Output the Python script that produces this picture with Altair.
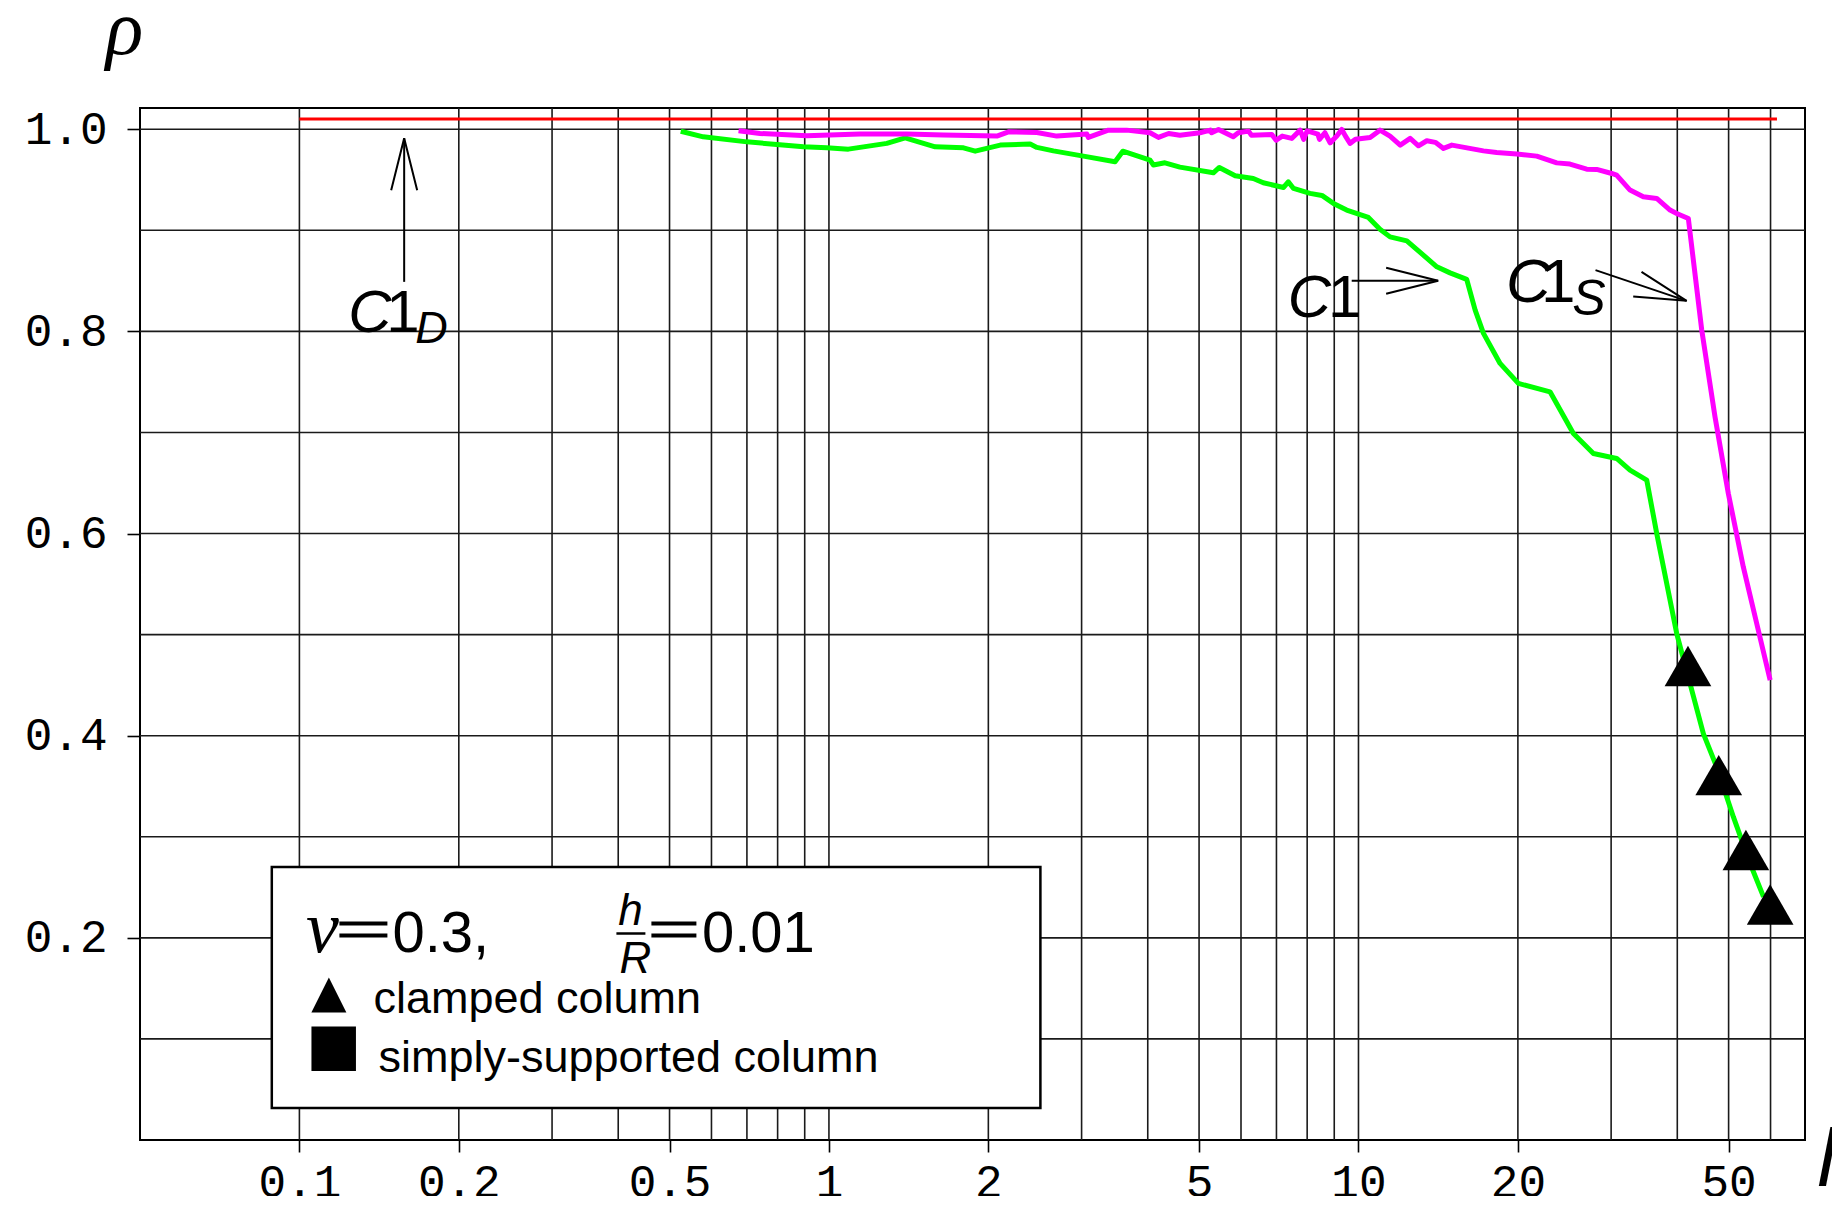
import altair as alt
import pandas as pd

# ---------------- data ----------------
# C1 (green)
c1_x = [0.525, 0.579, 0.70, 0.797, 0.895, 0.991, 1.088, 1.286, 1.393, 1.587, 1.795, 1.889,
        2.106, 2.399, 2.47, 2.654, 3.024, 3.47, 3.589, 4.04, 4.10, 4.31, 4.60, 5.32, 5.46,
        5.85, 6.33, 6.61, 7.22, 7.37, 7.54, 8.10, 8.53, 8.97, 9.50, 10.44, 10.98, 11.47,
        12.34, 14.06, 14.89, 16.01, 16.61, 17.22, 18.51, 20.04, 23.0, 25.46, 27.77, 30.73,
        32.57, 35.03, 36.58, 39.9, 42.28, 44.8, 47.48, 51.05, 54.9, 58.2]
c1_y = [0.998, 0.9925, 0.9875, 0.985, 0.9826, 0.9816, 0.9803, 0.986, 0.9915, 0.9826, 0.9816, 0.9783,
        0.9843, 0.9853, 0.982, 0.9786, 0.9734, 0.9678, 0.9783, 0.9694, 0.9646, 0.9668, 0.9625, 0.9569, 0.9622,
        0.954, 0.9513, 0.947, 0.9424, 0.948, 0.9414, 0.9365, 0.9345, 0.9266, 0.92, 0.9127, 0.9011, 0.8935,
        0.8896, 0.8639, 0.8579, 0.8514, 0.821, 0.798, 0.7683, 0.7485, 0.7402, 0.699, 0.6792, 0.6743,
        0.6627, 0.6528, 0.600, 0.501, 0.4516, 0.4021, 0.369, 0.3196, 0.2735, 0.2405]

# C1_S (magenta)
c1s_x = [0.675, 0.741, 0.908, 1.145, 1.403, 1.645, 2.075, 2.183, 2.47, 2.693, 3.069, 3.09, 3.37,
         3.65, 4.04, 4.19, 4.38, 4.60, 5.02, 5.25, 5.28, 5.44, 5.80, 5.93, 6.20, 6.28, 6.86, 6.99,
         7.18, 7.48, 7.76, 7.88, 8.0, 8.38, 8.44, 8.64, 8.84, 9.1, 9.30, 9.45, 9.64, 9.87, 10.52,
         10.98, 11.47, 11.99, 12.52, 12.98, 13.46, 13.97, 14.47, 15.01, 17.22, 18.24, 19.9, 21.71,
         23.68, 25.08, 26.98, 28.18, 30.08, 30.73, 32.57, 34.5, 36.58, 38.76, 39.9, 41.97, 44.49,
         47.13, 49.94, 53.3, 56.5, 59.9]
c1s_y = [0.9984, 0.9958, 0.9935, 0.9952, 0.9952, 0.9942, 0.9932, 0.9974, 0.9968, 0.9932, 0.9952, 0.9919, 0.9991,
         0.9991, 0.9965, 0.9919, 0.9958, 0.9941, 0.9965, 0.9991, 0.9965, 0.9998, 0.9925, 0.9965, 0.9981, 0.9941, 0.9948, 0.9891,
         0.9932, 0.9909, 0.9991, 0.9900, 0.9984, 0.9952, 0.9900, 0.9965, 0.9865, 0.9932, 0.9998, 0.9932, 0.986, 0.9900, 0.9919,
         0.9991, 0.9932, 0.9843, 0.9909, 0.9836, 0.9886, 0.987, 0.981, 0.9843, 0.9786, 0.977, 0.9754, 0.9734,
         0.9667, 0.9655, 0.9605, 0.9602, 0.9562, 0.9546, 0.9398, 0.9331, 0.9315, 0.9200, 0.9167, 0.9117, 0.8012,
         0.7154, 0.6396, 0.567, 0.511, 0.455]

# C1_D (red)
c1d_x = [0.1, 61.7]
c1d_y = [1.01, 1.01]

# clamped column (triangles)
clamped_x = [41.9, 47.9, 53.9, 59.9]
clamped_y = [0.469, 0.361, 0.287, 0.233]

# grid and ticks
grid_x = [0.1, 0.2, 0.3, 0.4, 0.5, 0.6, 0.7, 0.8, 0.9, 1, 2, 3, 4, 5, 6, 7, 8, 9, 10, 20, 30, 40, 50, 60]
grid_y = [0.1, 0.2, 0.3, 0.4, 0.5, 0.6, 0.7, 0.8, 0.9, 1.0]
x_tick_values = [0.1, 0.2, 0.5, 1, 2, 5, 10, 20, 50]
y_tick_values = [0.2, 0.4, 0.6, 0.8, 1.0]

# annotation arrows (tail x, tail y, tip x, tip y, heading in degrees)
arrow_x = [0.1577, 9.71, 28.03]
arrow_y = [0.849, 0.850, 0.8606]
arrow_x2 = [0.1577, 14.14, 41.66]
arrow_y2 = [0.991, 0.850, 0.8302]
arrow_angle = [0, 90, 108.6]

# annotation labels
lab_text = ["C", "1", "D", "C", "1", "C", "1", "S"]
lab_x = [0.1236, 0.1459, 0.1655, 7.35, 8.76, 18.99, 22.12, 25.32]
lab_y = [0.7995, 0.7995, 0.7884, 0.8144, 0.8144, 0.8292, 0.8292, 0.816]
lab_size = [60, 60, 45, 60, 60, 62, 62, 50]
lab_style = ["italic", "normal", "italic", "italic", "normal", "italic", "normal", "italic"]

# ---------------- chart ----------------
BLACK = "black"
GRID = "#1a1a1a"

xs = alt.Scale(type="log", domain=[0.05, 69.7], nice=False)
ys = alt.Scale(domain=[0, 1.021], nice=False, zero=False)

xaxis = alt.Axis(values=x_tick_values, format="~g", grid=False, domain=False,
                 tickSize=12, tickWidth=1.6, tickColor=BLACK,
                 labelFont="Liberation Mono", labelFontSize=46, labelColor=BLACK,
                 labelPadding=8, labelFlush=False, labelOverlap=False,
                 title="l", titleFont="Liberation Sans", titleFontStyle="italic",
                 titleFontSize=82, titleFontWeight="normal", titleColor=BLACK,
                 titleX=1686, titleY=45, titleAlign="center", titleBaseline="alphabetic",
                 titleAngle=0)
yaxis = alt.Axis(values=y_tick_values, format=".1f", grid=False, domain=False,
                 tickSize=13, tickWidth=1.6, tickColor=BLACK,
                 labelFont="Liberation Mono", labelFontSize=46, labelColor=BLACK,
                 labelPadding=20, labelOverlap=False,
                 title="ρ", titleFont="Liberation Serif", titleFontStyle="italic",
                 titleFontSize=78, titleFontWeight="normal", titleColor=BLACK,
                 titleAngle=0, titleX=-16, titleY=-55, titleAlign="center",
                 titleBaseline="alphabetic")

X = alt.X("x:Q", scale=xs, axis=xaxis)
Y = alt.Y("y:Q", scale=ys, axis=yaxis)

one = pd.DataFrame({"k": [0]})

vgrid = alt.Chart(pd.DataFrame({"x": grid_x})).mark_rule(color=GRID, strokeWidth=1.6).encode(x=X)
hgrid = alt.Chart(pd.DataFrame({"y": grid_y})).mark_rule(color=GRID, strokeWidth=1.6).encode(y=Y)

red = alt.Chart(pd.DataFrame({"x": c1d_x, "y": c1d_y})).mark_line(color="#ff0000", strokeWidth=3).encode(x=X, y=Y)
green = alt.Chart(pd.DataFrame({"x": c1_x, "y": c1_y})).mark_line(color="#00ff00", strokeWidth=5, strokeJoin="round").encode(x=X, y=Y)
magenta = alt.Chart(pd.DataFrame({"x": c1s_x, "y": c1s_y})).mark_line(color="#ff00ff", strokeWidth=5, strokeJoin="round").encode(x=X, y=Y)

tri = alt.Chart(pd.DataFrame({"x": clamped_x, "y": clamped_y})).mark_point(
    shape="M0,-0.866L1,0.866L-1,0.866Z", filled=True, size=2181, color=BLACK, opacity=1, strokeWidth=0
).encode(x=X, y=Y)

arr_df = pd.DataFrame({"x": arrow_x, "y": arrow_y, "x2": arrow_x2, "y2": arrow_y2, "a": arrow_angle})
shafts = alt.Chart(arr_df).mark_rule(color=BLACK, strokeWidth=2).encode(x=X, y=Y, x2="x2:Q", y2="y2:Q")
heads_df = pd.DataFrame({"x": arrow_x2, "y": arrow_y2, "a": arrow_angle})
heads = alt.Chart(heads_df).mark_point(
    shape="M-0.5,2L0,0L0.5,2", filled=False, size=2704, color=BLACK, opacity=1, strokeWidth=2
).encode(x=X, y=Y, angle=alt.Angle("a:Q", scale=None))

lab_df = pd.DataFrame({"x": lab_x, "y": lab_y, "t": lab_text, "s": lab_size, "st": lab_style})
labels = []
for style in ["italic", "normal"]:
    for size in sorted(set(lab_size)):
        sub = lab_df[(lab_df.st == style) & (lab_df.s == size)]
        if len(sub) == 0:
            continue
        labels.append(alt.Chart(sub).mark_text(
            align="left", baseline="alphabetic", font="Liberation Sans", fontSize=size,
            fontStyle=style, color=BLACK
        ).encode(x=X, y=Y, text="t:N"))

# ---- legend box (pixel positions inside plot area) ----
box = alt.Chart(one).mark_rect(fill="white", stroke=BLACK, strokeWidth=2.5).encode(
    x=alt.value(131.8), x2=alt.value(900.4), y=alt.value(759), y2=alt.value(1000))


def ltext(txt, px, py, font="Liberation Sans", size=58, style="normal", align="left"):
    return alt.Chart(one).mark_text(text=txt, align=align, baseline="alphabetic", font=font,
                                    fontSize=size, fontStyle=style, color=BLACK).encode(
        x=alt.value(px), y=alt.value(py))


def hbar(x1, x2, py, w=2.5):
    return alt.Chart(one).mark_rule(color=BLACK, strokeWidth=w).encode(
        x=alt.value(x1), x2=alt.value(x2), y=alt.value(py), y2=alt.value(py))


leg = [
    box,
    ltext("ν", 165.9, 843.7, font="Liberation Serif", size=74, style="italic"),
    hbar(199.4, 247.4, 815.5, 4), hbar(199.4, 247.4, 827.5, 4),
    ltext("0.3,", 252.4, 843.7, size=58),
    ltext("h", 490.4, 817, size=44, style="italic", align="center"),
    hbar(476.4, 505.4, 825.5),
    ltext("R", 495.4, 865, size=44, style="italic", align="center"),
    hbar(511.4, 556.4, 815.5, 4), hbar(511.4, 556.4, 827.5, 4),
    ltext("0.01", 561.9, 843.7, size=58),
    alt.Chart(one).mark_point(shape="M0,-1L1,1L-1,1Z", filled=True, size=1225, color=BLACK,
                              opacity=1, strokeWidth=0).encode(x=alt.value(188.9), y=alt.value(887)),
    ltext("clamped column", 233.4, 905, size=45),
    alt.Chart(one).mark_point(shape="square", filled=True, size=1980, color=BLACK,
                              opacity=1, strokeWidth=0).encode(x=alt.value(193.7), y=alt.value(940.8)),
    ltext("simply-supported column", 238.4, 963.7, size=45),
]

chart = alt.layer(vgrid, hgrid, red, green, magenta, tri, shafts, heads, *labels, *leg).properties(
    width=1665, height=1032,
    autosize=alt.AutoSizeParams(type="none"),
    padding={"left": 132, "top": 100, "right": 27, "bottom": 56},
    background="white",
).configure_view(stroke=BLACK, strokeWidth=2)

chart.save("out.html", embed_options={"renderer": "svg", "actions": False})
